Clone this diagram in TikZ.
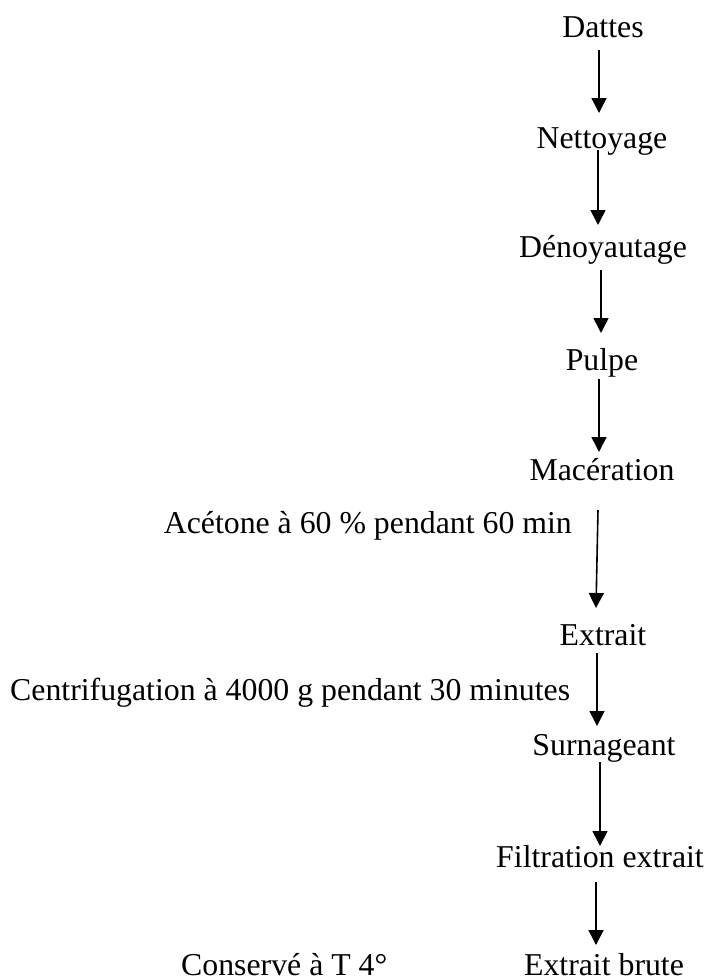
\documentclass[tikz,border=0pt]{standalone}
\usepackage{fontspec}
\setmainfont{Liberation Serif}
\usetikzlibrary{arrows.meta,calc}
\tikzset{
  stepnode/.style={inner sep=0pt, anchor=base, font=\fontsize{31.8}{38}\selectfont},
  lbl/.style={inner sep=0pt, font=\fontsize{31.8}{38}\selectfont},
  arr/.style={line width=1.6pt, -{Triangle[length=15pt,width=15pt]}}
}
\begin{document}
\begin{tikzpicture}[x=1pt,y=-1pt]
\useasboundingbox (0,0) rectangle (711,978);
\node[stepnode] (n1) at (603,37) {Dattes};
\node[stepnode] (n2) at (602,148) {Nettoyage};
\node[stepnode] (n3) at (603,257) {Dénoyautage};
\node[stepnode] (n4) at (602,370) {Pulpe};
\node[stepnode] (n5) at (602,480) {Macération};
\node[stepnode] (n6) at (603,645) {Extrait};
\node[stepnode] (n7) at (604,755) {Surnageant};
\node[stepnode] (n8) at (600,867) {Filtration extrait};
\node[stepnode] (n9) at (604,975) {Extrait brute};
\node[lbl, anchor=base east] (l1) at (572,533) {Acétone à 60 \% pendant 60 min};
\node[lbl, anchor=base west] (l2) at (10,700) {Centrifugation à 4000 g pendant 30 minutes};
\node[lbl, anchor=base west] (l3) at (181,975) {Conservé à T 4°};
\draw[arr] ($(n1.base)+(-4,13)$) -- ($(n2.base)+(-3,-35)$);
\draw[arr] ($(n2.base)+(-4,2)$) -- ($(n3.base)+(-5,-32)$);
\draw[arr] ($(n3.base)+(-2,13)$) -- ($(n4.base)+(-1,-37)$);
\draw[arr] ($(n4.base)+(-3,9)$) -- ($(n5.base)+(-3,-28)$);
\draw[arr] ($(n5.base)+(-4,30)$) -- ($(n6.base)+(-7,-37)$);
\draw[arr] ($(n6.base)+(-6,8)$) -- ($(n7.base)+(-7,-29)$);
\draw[arr] ($(n7.base)+(-4,7)$) -- ($(n8.base)+(0,-21)$);
\draw[arr] ($(n8.base)+(-4,15)$) -- ($(n9.base)+(-8,-30)$);
\end{tikzpicture}
\end{document}
